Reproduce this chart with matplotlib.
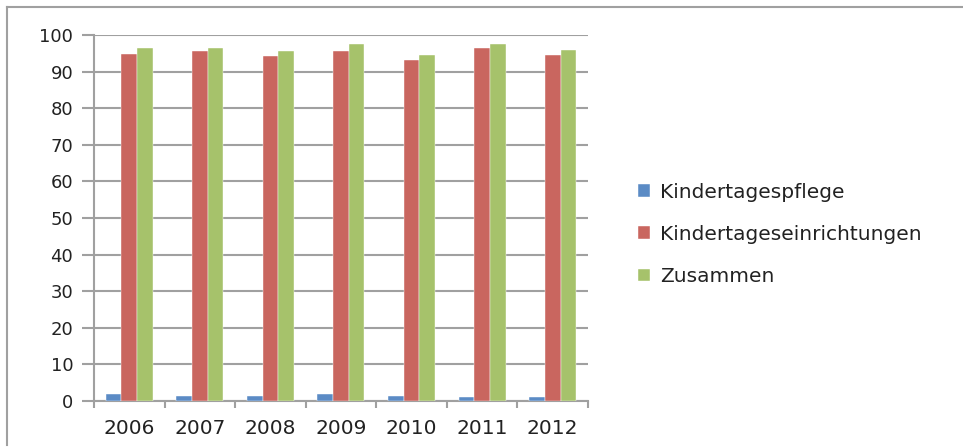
import matplotlib
matplotlib.use('Agg')
import matplotlib.pyplot as plt
from matplotlib.lines import Line2D
import numpy as np

years = ['2006', '2007', '2008', '2009', '2010', '2011', '2012']
kindertagespflege = [1.8, 1.3, 1.3, 2.0, 1.5, 1.0, 1.0]
kindertageseinrichtungen = [94.8, 95.6, 94.3, 95.6, 93.2, 96.5, 94.5]
zusammen = [96.5, 96.5, 95.6, 97.6, 94.5, 97.6, 95.8]

series = [
    ('Kindertagespflege', kindertagespflege, '#5B8BC5'),
    ('Kindertageseinrichtungen', kindertageseinrichtungen, '#C9665F'),
    ('Zusammen', zusammen, '#A6C26B'),
]

plt.rcParams['font.family'] = ['DejaVu Sans']

fig = plt.figure(figsize=(9.63, 4.47), dpi=100)
ax = fig.add_axes([0.0976, 0.1029, 0.5130, 0.8188])

x = np.arange(len(years))
width = 0.222
for i, (label, vals, color) in enumerate(series):
    ax.bar(x + (i - 1) * width, vals, width, color=color, label=label,
           edgecolor='white', linewidth=0.3, zorder=3)

grid_color = '#A0A0A0'
ax.set_ylim(0, 100)
ax.set_xlim(-0.5, len(years) - 0.5)
ax.set_yticks(range(0, 101, 10))
ax.yaxis.grid(True, color=grid_color, linewidth=1.5, zorder=0)
ax.set_xticks(x)
ax.set_xticklabels(years)
ax.set_xticks(np.arange(-0.5, len(years), 1), minor=True)
ax.tick_params(axis='x', which='major', length=0, pad=13, labelsize=14.5, colors='#222222')
ax.tick_params(axis='x', which='minor', length=5, width=1.5, color=grid_color, direction='out')
ax.tick_params(axis='y', length=9, width=1.5, color=grid_color, pad=6, labelsize=13,
               labelcolor='#222222')

for side in ['top', 'right']:
    ax.spines[side].set_visible(False)
for side in ['left', 'bottom']:
    ax.spines[side].set_color(grid_color)
    ax.spines[side].set_linewidth(1.5)

leg = ax.legend(loc='center left', bbox_to_anchor=(1.065, 0.455), frameon=False,
                fontsize=14.5, handlelength=0.6, handleheight=0.6, handletextpad=0.5,
                labelspacing=1.15)
for t in leg.get_texts():
    t.set_color('#222222')

# outer frame (top and left only visible in the reference)
fig.add_artist(Line2D([0.007, 0.007], [0.004, 0.984], transform=fig.transFigure,
                      color='#A0A0A0', linewidth=1.5))
fig.add_artist(Line2D([0.007, 1.0], [0.984, 0.984], transform=fig.transFigure,
                      color='#A0A0A0', linewidth=1.5))

fig.savefig('out.png', dpi=100, facecolor='white')
